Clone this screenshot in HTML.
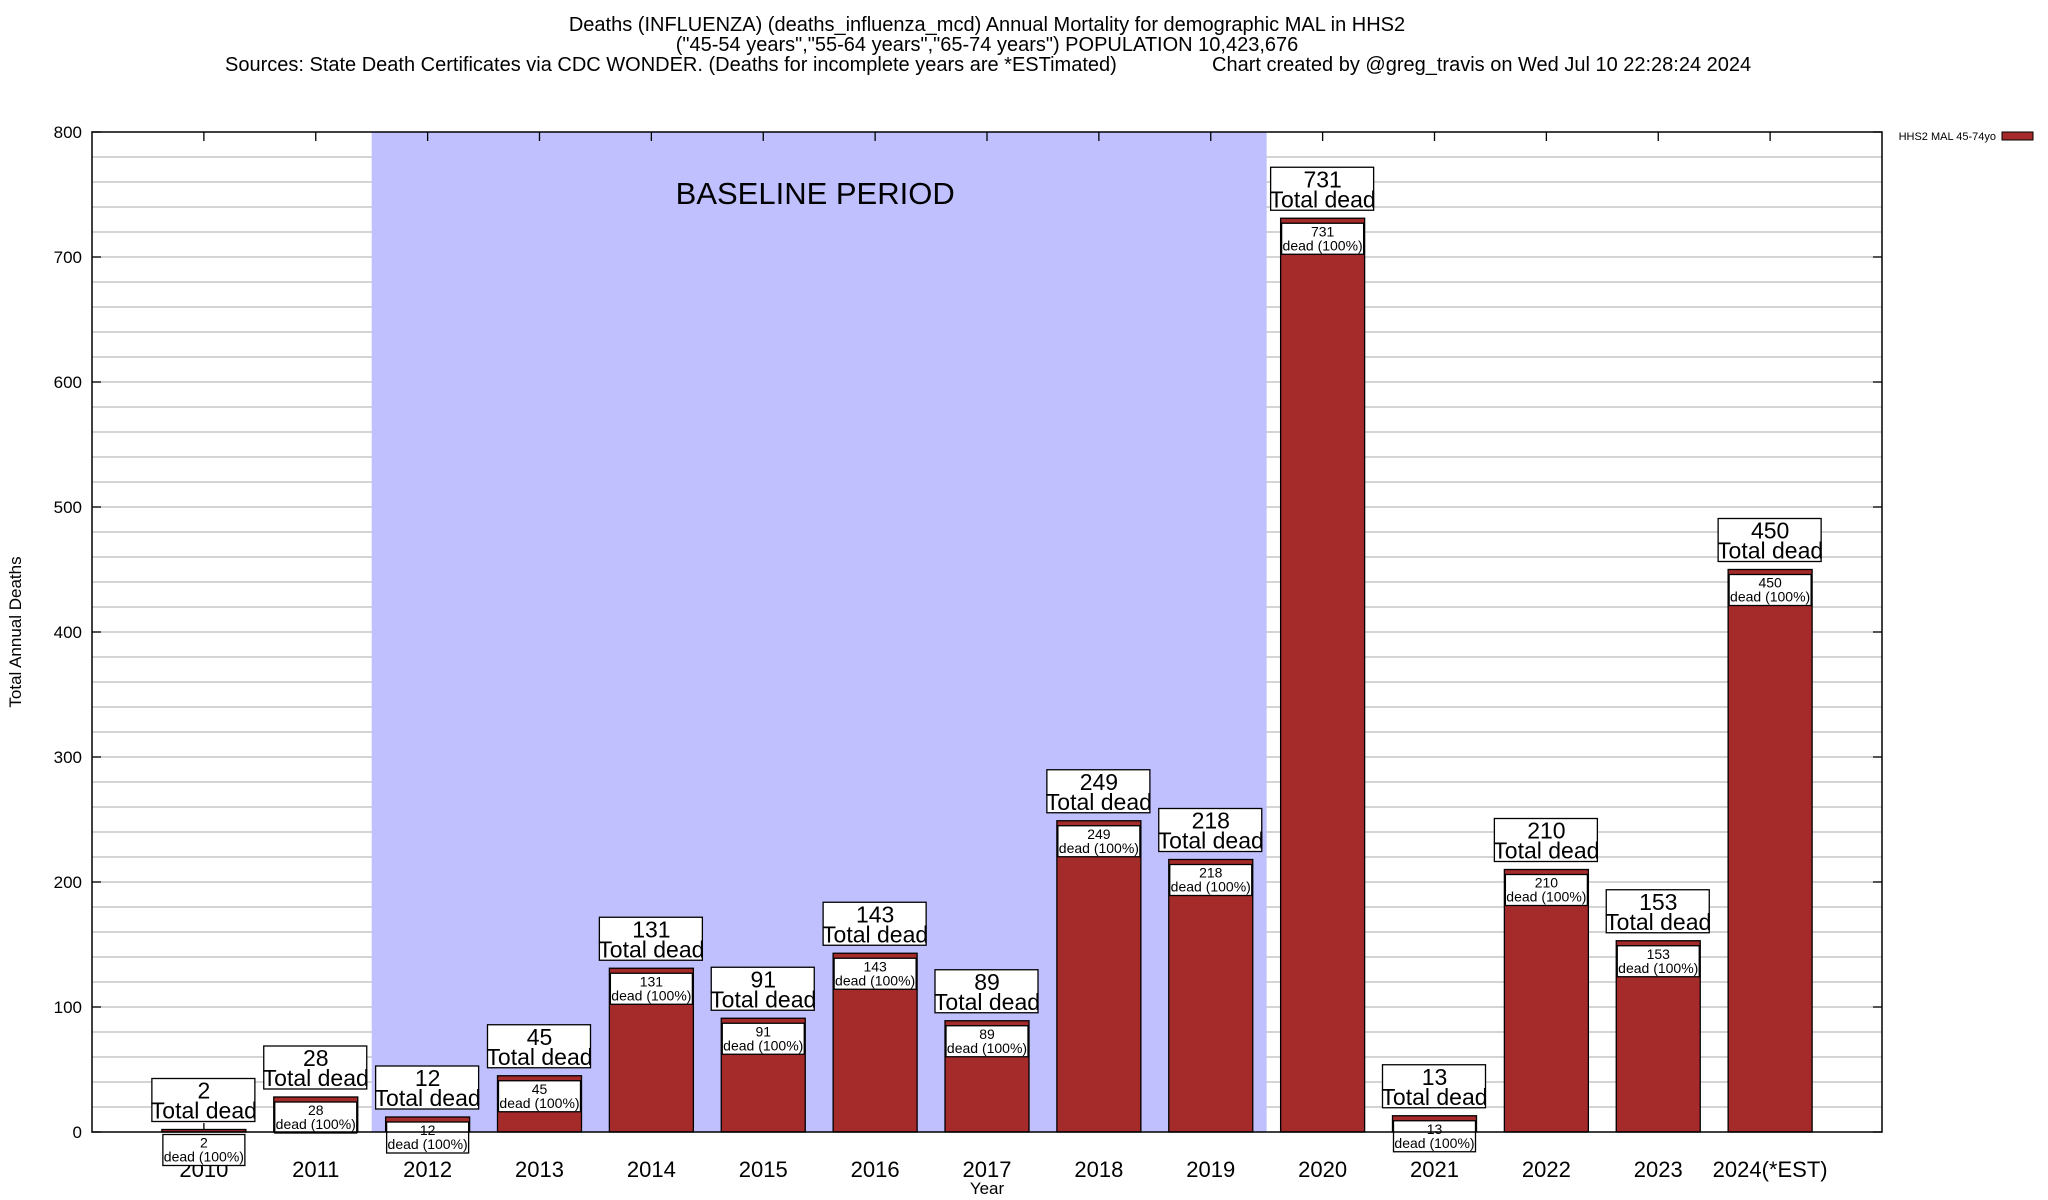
<!DOCTYPE html>
<html><head><meta charset="utf-8"><style>
html,body{margin:0;padding:0;background:#fff;}
svg{display:block;font-family:"Liberation Sans",sans-serif;}
</style></head><body>
<svg id="chart" width="2048" height="1200" viewBox="0 0 2048 1200">
<g font-size="20" text-anchor="middle">
<text x="987" y="31">Deaths (INFLUENZA) (deaths_influenza_mcd) Annual Mortality for demographic MAL in HHS2</text>
<text x="987" y="51">("45-54 years","55-64 years","65-74 years") POPULATION 10,423,676</text>
<text x="225" y="71" text-anchor="start">Sources: State Death Certificates via CDC WONDER. (Deaths for incomplete years are *ESTimated)</text>
<text x="1212" y="71" text-anchor="start">Chart created by @greg_travis on Wed Jul 10 22:28:24 2024</text>
</g>
<g id="grid"></g>
<rect id="baseline" fill="#c0c0ff"/>
<text id="baselineText" font-size="31" text-anchor="middle">BASELINE PERIOD</text>
<g id="axes"></g>
<g id="bars"></g>
<rect x="92" y="132" width="1790" height="1000" fill="none" stroke="#000" stroke-width="1.5"/>
<text x="987" y="1194" font-size="17" text-anchor="middle">Year</text>
<text transform="translate(21,632) rotate(-90)" font-size="17" text-anchor="middle">Total Annual Deaths</text>
<g>
<text x="1996" y="140" font-size="11" text-anchor="end">HHS2 MAL 45-74yo</text>
<rect x="2002" y="132" width="31" height="8" fill="#a52a2a" stroke="#000" stroke-width="1"/>
</g>
</svg>
<script>
const categories=["2010","2011","2012","2013","2014","2015","2016","2017","2018","2019","2020","2021","2022","2023","2024(*EST)"];
const deaths=[2,28,12,45,131,91,143,89,249,218,731,13,210,153,450];
const yTicks=[0,100,200,300,400,500,600,700,800];
const baselineRange=[1.5,9.5];
const L=92,R=1882,T=132,B=1132,NS="http://www.w3.org/2000/svg";
const slot=(R-L)/(categories.length+1);
const xs=i=>L+(i+1)*slot;
const ys=v=>B-(v/800)*(B-T);
function mk(tag,at,par){const e=document.createElementNS(NS,tag);for(const k in at)e.setAttribute(k,at[k]);par.appendChild(e);return e;}
const grid=document.getElementById('grid'),axes=document.getElementById('axes'),bars=document.getElementById('bars');
for(let v=20;v<800;v+=20){const g=mk('line',{x1:L,x2:R,y1:ys(v),y2:ys(v),stroke:'#bbb','stroke-width':1.3},grid);

}
const bl=document.getElementById('baseline');
bl.setAttribute('x',xs(baselineRange[0]));bl.setAttribute('y',T);bl.setAttribute('width',xs(baselineRange[1])-xs(baselineRange[0]));bl.setAttribute('height',B-T);
const bt=document.getElementById('baselineText');bt.setAttribute('x',(xs(baselineRange[0])+xs(baselineRange[1]))/2-4);bt.setAttribute('y',T+72);
yTicks.forEach(v=>{
 mk('line',{x1:L,x2:L+9,y1:ys(v),y2:ys(v),stroke:'#000','stroke-width':1.3},axes);
 mk('line',{x1:R-9,x2:R,y1:ys(v),y2:ys(v),stroke:'#000','stroke-width':1.3},axes);
 const t=mk('text',{x:82,y:ys(v)+6,'font-size':17,'text-anchor':'end'},axes);t.textContent=v;
 
 
});
categories.forEach((c,i)=>{
 const x=xs(i),v=deaths[i],y=ys(v),w=84;
 mk('line',{x1:x,x2:x,y1:B,y2:B-9,stroke:'#000','stroke-width':1.3},axes);
 mk('line',{x1:x,x2:x,y1:T,y2:T+9,stroke:'#000','stroke-width':1.3},axes);
 const t=mk('text',{x:x,y:1177,'font-size':22,'text-anchor':'middle'},axes);t.textContent=c;
 
 
 const g=mk('g',{},bars);
 
 
 mk('rect',{x:x-w/2,y:y,width:w,height:B-y,fill:'#a52a2a',stroke:'#000','stroke-width':1.3},g);
 mk('rect',{x:x-w/2+1,y:y+5,width:w-2,height:31,fill:'#fff',stroke:'#000','stroke-width':1.3},g);
 const a=mk('text',{x:x,y:y+18,'font-size':14,'text-anchor':'middle'},g);a.textContent=v;
 const b=mk('text',{x:x,y:y+32,'font-size':14,'text-anchor':'middle'},g);b.textContent='dead (100%)';
 mk('rect',{x:x-52,y:y-51,width:103,height:43,fill:'#fff',stroke:'#000','stroke-width':1.3},g);
 const c1=mk('text',{x:x,y:y-31,'font-size':23,'text-anchor':'middle'},g);c1.textContent=v;
 const c2=mk('text',{x:x,y:y-11,'font-size':23,'text-anchor':'middle'},g);c2.textContent='Total dead';
});
</script>
</body></html>
